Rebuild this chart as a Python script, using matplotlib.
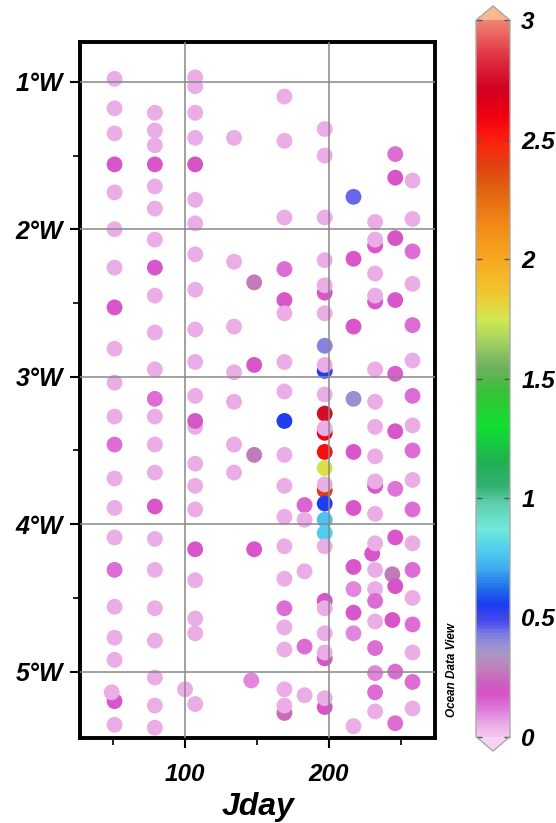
import numpy as np
import matplotlib
matplotlib.use("Agg")
import matplotlib.pyplot as plt
from matplotlib.colors import LinearSegmentedColormap, Normalize

# station data: day of year, longitude (deg W), value
# beneath-lying dots are listed first so the later ones sit on top
jday = (
    [51]*20 + [49, 51]                                   # col A
    + [79]*23                                            # col B
    + [107]*12 + [107, 107] + [107]*7 + [100, 107]       # col C
    + [134]*7                                            # col D
    + [148, 148, 148, 148, 146]                          # col E
    + [169]*18 + [169, 169]                              # col F
    + [183]*5                                            # col G
    + [197]*29                                           # col H
    + [217]*11                                           # col I
    + [232]*11 + [230] + [232]*7                         # col J (part)
    + [246]*8 + [244, 246, 244, 246, 246]                # col K
    + [258]*18                                           # col L
)
lon_w = (
    [0.98, 1.18, 1.35, 1.56, 1.75, 2.00, 2.26, 2.53, 2.81, 3.04, 3.27, 3.46,
     3.69, 3.89, 4.09, 4.31, 4.56, 4.77, 4.92, 5.20, 5.14, 5.36]
    + [1.21, 1.33, 1.43, 1.56, 1.71, 1.86, 2.07, 2.26, 2.45, 2.70, 2.95, 3.15,
       3.27, 3.46, 3.65, 3.88, 4.10, 4.31, 4.57, 4.79, 5.04, 5.23, 5.38]
    + [0.97, 1.03, 1.21, 1.38, 1.56, 1.80, 1.96, 2.17, 2.41, 2.68, 2.90, 3.13,
       3.34, 3.30, 3.59, 3.74, 3.90, 4.17, 4.38, 4.64, 4.74, 5.12, 5.22]
    + [1.38, 2.22, 2.66, 2.97, 3.17, 3.46, 3.65]
    + [2.36, 2.92, 3.53, 4.17, 5.06]
    + [1.10, 1.40, 1.92, 2.27, 2.48, 2.57, 2.90, 3.10, 3.30, 3.53, 3.74, 3.95,
       4.15, 4.37, 4.57, 4.70, 4.85, 5.12, 5.28, 5.23]
    + [3.87, 3.97, 4.32, 4.83, 5.16]
    + [1.32, 1.50, 1.92, 2.21, 2.43, 2.38, 2.57, 2.79, 2.96, 2.92, 3.12, 3.25,
       3.38, 3.35, 3.51, 3.62, 3.77, 3.73, 3.86, 3.97, 4.06, 4.15, 4.52, 4.57,
       4.74, 4.91, 4.87, 5.24, 5.18]
    + [1.78, 2.20, 2.66, 3.15, 3.51, 3.89, 4.29, 4.44, 4.60, 4.74, 5.37]
    + [1.95, 2.11, 2.07, 2.30, 2.49, 2.45, 2.95, 3.17, 3.34, 3.54, 3.74, 4.20,
       3.71, 3.93, 4.13, 4.31, 4.44, 4.52, 4.66]
    + [1.49, 1.65, 2.06, 2.48, 2.98, 3.37, 3.76, 4.09, 4.34, 4.42, 4.65, 5.00, 5.35]
    + [1.67, 1.93, 2.15, 2.37, 2.65, 2.89, 3.13, 3.33, 3.50, 3.70, 3.90, 4.13,
       4.31, 4.50, 4.68, 4.87, 5.07, 5.25]
)
value = (
    [0.05, 0.05, 0.05, 0.17, 0.05, 0.05, 0.05, 0.17, 0.05, 0.05, 0.05, 0.13,
     0.05, 0.05, 0.05, 0.14, 0.05, 0.05, 0.05, 0.17, 0.05, 0.05]
    + [0.05, 0.05, 0.05, 0.17, 0.05, 0.05, 0.05, 0.17, 0.05, 0.05, 0.05, 0.13,
       0.05, 0.05, 0.05, 0.17, 0.05, 0.05, 0.05, 0.05, 0.05, 0.05, 0.05]
    + [0.05, 0.05, 0.05, 0.05, 0.18, 0.05, 0.05, 0.05, 0.05, 0.05, 0.05, 0.05,
       0.05, 0.21, 0.05, 0.05, 0.05, 0.17, 0.05, 0.05, 0.05, 0.05, 0.05]
    + [0.05]*7
    + [0.28, 0.17, 0.28, 0.17, 0.10]
    + [0.05, 0.05, 0.05, 0.13, 0.17, 0.05, 0.05, 0.05, 0.55, 0.05, 0.05, 0.05,
       0.05, 0.05, 0.13, 0.05, 0.05, 0.05, 0.25, 0.05]
    + [0.15, 0.05, 0.05, 0.14, 0.05]
    + [0.05, 0.05, 0.05, 0.05, 0.17, 0.05, 0.05, 0.42, 0.55, 0.05, 0.05, 2.75,
       2.60, 0.05, 2.55, 1.78, 2.40, 0.05, 0.55, 0.76, 0.78, 0.05, 0.17, 0.05,
       0.05, 0.17, 0.05, 0.17, 0.05]
    + [0.45, 0.17, 0.17, 0.38, 0.17, 0.17, 0.17, 0.10, 0.17, 0.10, 0.05]
    + [0.05, 0.17, 0.05, 0.05, 0.17, 0.05, 0.05, 0.05, 0.05, 0.05, 0.17, 0.17,
       0.05, 0.05, 0.05, 0.05, 0.05, 0.14, 0.05]
    + [0.14, 0.18, 0.18, 0.17, 0.16, 0.17, 0.12, 0.17, 0.28, 0.18, 0.18, 0.13, 0.13]
    + [0.05, 0.05, 0.13, 0.05, 0.13, 0.05, 0.13, 0.05, 0.13, 0.05, 0.13, 0.05,
       0.13, 0.05, 0.13, 0.05, 0.13, 0.05]
)
# col J tail (below 4.66)
jday += [232, 232, 232, 232]
lon_w += [4.84, 5.01, 5.14, 5.27]
value += [0.13, 0.10, 0.13, 0.05]

# ODV-like rainbow, node positions in data units (0..3)
cmap_nodes = [0.00, 0.05, 0.10, 0.17, 0.22, 0.28, 0.35, 0.42, 0.48, 0.55, 0.62,
              0.70, 0.78, 0.87, 0.97, 1.05, 1.15, 1.30, 1.45, 1.55, 1.65, 1.75,
              1.85, 2.00, 2.15, 2.30, 2.40, 2.50, 2.60, 2.72, 2.85, 3.00]
cmap_colors = ['#f2c6f0', '#eaabe4', '#e080dc', '#d852c8', '#cc5ec0', '#c080b8',
               '#a898c8', '#8080e0', '#4848f0', '#1a3cf0', '#2070e8', '#40a8f0',
               '#50d0f0', '#70e8d8', '#60d0b0', '#30b070', '#20b050', '#10e030',
               '#38c038', '#70b060', '#a0d060', '#d0e850', '#f0c830', '#f8a820',
               '#f08818', '#e06010', '#e04010', '#ff2010', '#f00010', '#d00020',
               '#e03040', '#f08070']
odv = LinearSegmentedColormap.from_list(
    'odv', list(zip(np.array(cmap_nodes) / 3.0, cmap_colors)))
odv.set_over('#f8b890')
odv.set_under('#f6d4f4')

font = dict(family='Liberation Sans', weight='bold', style='italic')

fig = plt.figure(figsize=(5.56, 8.23), dpi=100)
ax = fig.add_axes([80/556, 1-738/823, 355/556, 696/823])

sc = ax.scatter(jday, lon_w, c=value, cmap=odv, norm=Normalize(0, 3),
                s=130, linewidths=0, zorder=2)

ax.set_xlim(27, 273.6)
ax.set_ylim(5.45, 0.73)
ax.set_xticks([100, 200])
ax.set_xticks([50, 150, 250], minor=True)
ax.set_yticks([1, 2, 3, 4, 5])
ax.set_yticks([1.5, 2.5, 3.5, 4.5], minor=True)
ax.set_xticklabels(['100', '200'], fontsize=17.5, **font)
ax.set_yticklabels([f'{d}°W' for d in range(1, 6)], fontsize=18, **font)
ax.grid(True, which='major', color='#888888', linewidth=1.1, zorder=3)
ax.set_axisbelow(False)
ax.tick_params(which='major', direction='out', length=7, width=1.5, pad=5)
ax.tick_params(which='minor', direction='out', length=5, width=1.2)
ax.tick_params(axis='x', which='major', pad=11)
for sp in ax.spines.values():
    sp.set_linewidth(2.8)
ax.set_xlabel('Jday', fontsize=23, labelpad=4, **font)

cax = fig.add_axes([476/556, 1-751/823, 34/556, 745/823])
cb = fig.colorbar(sc, cax=cax, extend='both', extendfrac=0.02,
                  ticks=[0, 0.5, 1, 1.5, 2, 2.5, 3])
cb.set_ticklabels(['0', '0.5', '1', '1.5', '2', '2.5', '3'])
for t in cax.get_yticklabels():
    t.set_fontsize(17.5)
    t.set_fontweight('bold')
    t.set_fontstyle('italic')
    t.set_family('Liberation Sans')
cax.tick_params(direction='in', left=True, right=True, length=4, width=1,
                color='#555555', pad=8)
cb.outline.set_edgecolor('#aaaaaa')
cb.outline.set_linewidth(1)

fig.text(452/556, 1-670/823, 'Ocean Data View', rotation=90, ha='center',
         va='center', fontsize=8.5, **font)

fig.savefig('out.png', dpi=100)
